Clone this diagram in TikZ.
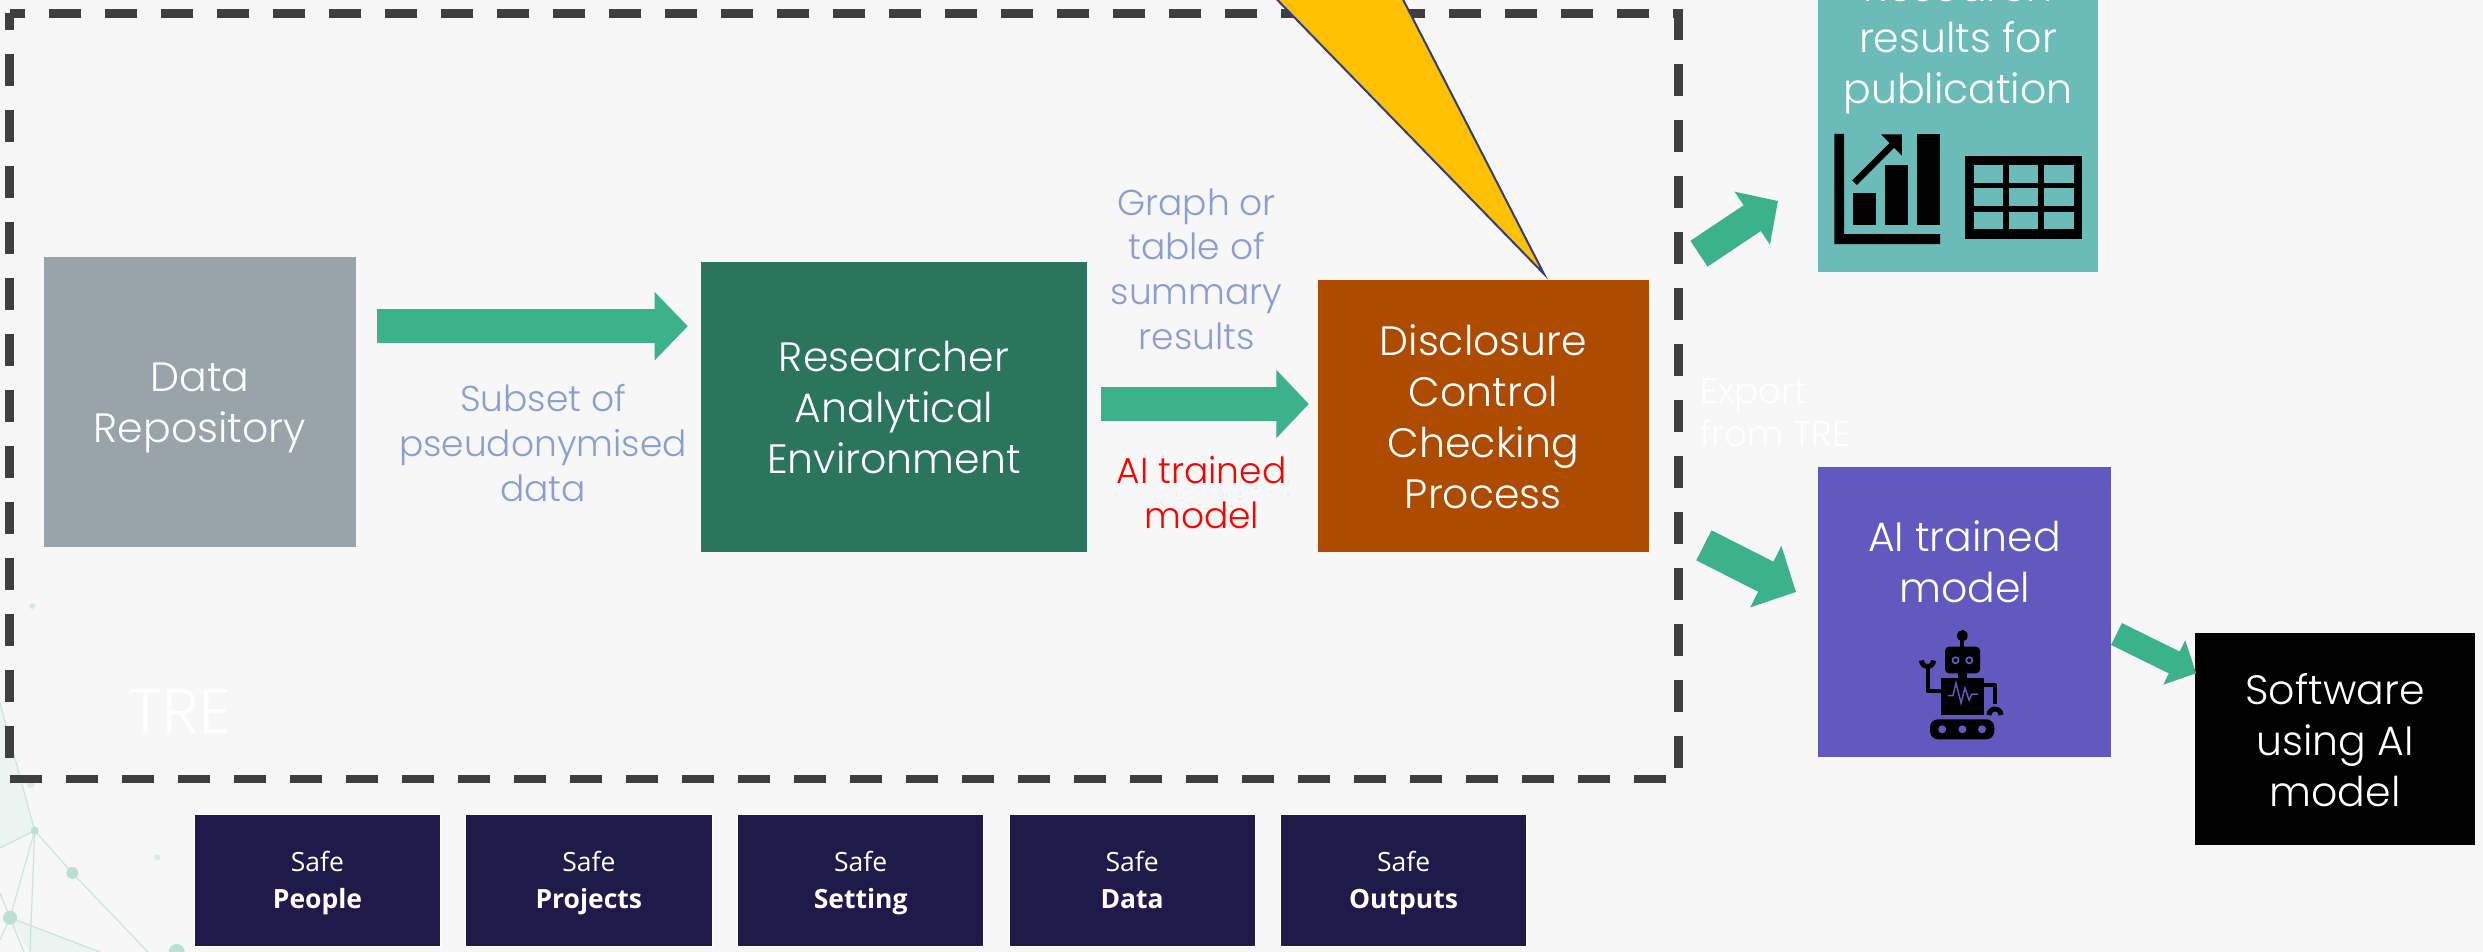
\documentclass[tikz,border=0pt]{standalone}
\usepackage{fontspec}
\usetikzlibrary{arrows.meta}
\setmainfont{Poppins Light}
\newfontfamily\safefont{Open Sans}
\definecolor{bgc}{HTML}{F7F7F7}
\definecolor{dashc}{HTML}{3F3F3D}
\definecolor{greenc}{HTML}{3CB28A}
\definecolor{labelc}{HTML}{8C9DD3}
\definecolor{safec}{HTML}{1F1A4A}
\definecolor{tealc}{HTML}{6BBBB9}
\definecolor{purplec}{HTML}{6159BE}
\definecolor{greyc}{HTML}{98A4A9}
\definecolor{darkgreen}{HTML}{2A755B}
\definecolor{rustc}{HTML}{AD4B00}
\definecolor{netline}{HTML}{C8E6DD}
\definecolor{netdot}{HTML}{B9E0D5}
\definecolor{netfaint}{HTML}{D6EBE5}
\definecolor{netpale}{HTML}{EBF4F1}
\definecolor{calloutc}{HTML}{FFC000}
\definecolor{calloutl}{HTML}{2F3F7F}
\newcommand\blk[2]{\smash{\raisebox{#1pt}{\begin{tabular}[t]{@{}c@{}}#2\end{tabular}}}}
\newcommand\blkl[1]{\smash{\begin{tabular}[t]{@{}l@{}}#1\end{tabular}}}
\tikzset{
  x=1pt,y=-1pt,
  box/.style n args={3}{rectangle,minimum width=#1pt,minimum height=#2pt,fill=#3,inner sep=0pt,outer sep=0pt,text=white},
  bigtxt/.style={font=\fontsize{41}{51}\selectfont},
  lbltxt/.style={font=\fontsize{36}{44.7}\selectfont,inner sep=0pt,text=labelc},
  safetxt/.style={font=\safefont\fontsize{26.5}{36.6}\selectfont},
  safebox/.style={box={246.3}{132.4}{safec},draw=white,line width=1pt},
  tre/.style={dash pattern=on 32.3pt off 23.7pt,line width=8.3pt,draw=dashc},
  conn/.style n args={3}{draw=greenc,line width=#1pt,-{Triangle[length=#2pt,width=#3pt,fill=greenc]}},
  netl/.style={draw=netline,line width=1.2pt},
}
\begin{document}
\begin{tikzpicture}
\useasboundingbox (0,0) rectangle (2483,952);
\clip (0,0) rectangle (2483,952);
\fill[bgc] (0,0) rectangle (2483,952);

% background network
\fill[netpale] (0,703) -- (34.7,830.7) -- (0,848) -- cycle;
\fill[netpale] (10,917.7) -- (100,952) -- (30,952) -- cycle;
\draw[netl] (0,703) -- (34.7,830.7) -- (0,848);
\draw[netl] (34.7,830.7) -- (72.3,873) -- (148,952);
\draw[netl] (34.7,830.7) -- (10,917.7) -- (0,940);
\draw[netl] (34.7,830.7) -- (30,952);
\draw[netl] (0,893) -- (10,917.7) -- (24,952);
\draw[netl] (10,917.7) -- (100,952);
\fill[netdot] (34.7,830.7) circle (4);
\fill[netdot] (72.3,873) circle (6);
\fill[netdot] (10,917.7) circle (7);
\fill[netfaint] (157.3,857.3) circle (3);
\fill[netdot] (176.7,952) circle (8);
\fill[netfaint] (30.7,784) circle (4);
\fill[netfaint] (32.3,606) circle (3);

% TRE dashed boundary
\draw[tre,dash phase=16.5pt] (9.5,13.5) -- (1678.6,13.5);
\draw[tre,dash phase=15.5pt] (9.5,13.5) -- (9.5,779);
\draw[tre] (9.5,779) -- (1678.6,779);
\draw[tre,dash phase=1.5pt] (1678.6,9.5) -- (1678.6,779);
\node[font=\fontsize{63}{70}\selectfont,text=white,inner sep=0pt] (trelabel) at (180,733.3) {\blk{0}{TRE}};
\node[font=\fontsize{35.5}{43.7}\selectfont,text=white,inner sep=0pt,anchor=west] (exportlabel) at (1700,403) {\blkl{Export\\from TRE}};

% callout
\draw[fill=calloutc,draw=calloutl,line width=2pt,miter limit=20] (1228.8,-50) -- (1544,274) -- (1377.6,-50) -- cycle;

% boxes
\node[box={311.8}{289.7}{greyc},bigtxt] (repo) at (199.9,401.85) {\blk{10.15}{Data\\Repository}};
\node[box={385.9}{289.7}{darkgreen},bigtxt] (rae) at (893.95,406.85) {\blk{35.15}{Researcher\\Analytical\\Environment}};
\node[box={331}{271.7}{rustc},bigtxt] (dccp) at (1483.3,415.85) {\blk{60.85}{Disclosure\\Control\\Checking\\Process}};
\node[box={280}{321.7}{tealc},bigtxt] (research) at (1958,110.85) {\blk{109.65}{Research\\results for\\publication}};
\node[box={293}{289.7}{purplec},bigtxt] (aimodel) at (1964.5,611.85) {\blk{60.85}{AI trained\\model}};
\node[box={280}{211.7}{black},bigtxt] (software) at (2335,738.85) {\blk{34.85}{Software\\using AI\\model}};

% labels
\node[lbltxt] (subset) at (543,411.7) {\blk{0}{Subset of\\pseudonymised\\data}};
\node[lbltxt] (graph) at (1196.6,215) {\blk{0}{Graph or\\table of\\summary\\results}};
\node[lbltxt,text=red] (trained) at (1201.7,483.3) {\blk{0}{AI trained\\model}};

% connectors
\coordinate (c1a) at (376.5,326.2); \coordinate (c1b) at (687.8,326.2);
\coordinate (c2a) at (1101,404);    \coordinate (c2b) at (1308.8,404);
\coordinate (c3a) at (1699,253.7);  \coordinate (c3b) at (1778,201);
\coordinate (c4a) at (1703.9,545.3);\coordinate (c4b) at (1796,592);
\coordinate (c5a) at (2116.5,634);  \coordinate (c5b) at (2196.2,673.3);
\draw[conn={33.7}{33.1}{66.3}] (c1a) -- (c1b);
\draw[conn={33.4}{32.5}{66.6}] (c2a) -- (c2b);
\draw[conn={31}{31}{62}] (c3a) -- (c3b);
\draw[conn={33.7}{33.9}{67}] (c4a) -- (c4b);
\draw[conn={24.4}{24.5}{48}] (c5a) -- (c5b);

% safe boxes
\node[safebox,safetxt] (s1) at (317.5,880.5) {\blk{8.8}{Safe\\\textbf{People}}};
\node[safebox,safetxt] (s2) at (588.85,880.5) {\blk{8.8}{Safe\\\textbf{Projects}}};
\node[safebox,safetxt] (s3) at (860.75,880.5) {\blk{8.8}{Safe\\\textbf{Setting}}};
\node[safebox,safetxt] (s4) at (1132.15,880.5) {\blk{8.8}{Safe\\\textbf{Data}}};
\node[safebox,safetxt] (s5) at (1403.55,880.5) {\blk{8.8}{Safe\\\textbf{Outputs}}};

% chart icon
\fill[black] (1834.4,134) rectangle (1844,244) (1834.4,234) rectangle (1940,244);
\fill[black] (1853,193) rectangle (1875.8,225);
\fill[black] (1884.9,165) rectangle (1908.2,225);
\fill[black] (1917.3,134) rectangle (1940,225);
\draw[black,line width=6.5pt] (1854.5,182.7) -- (1895.5,141.7);
\fill[black] (1881,134.3) -- (1901.9,134.3) -- (1901.9,155.7) -- cycle;
% table icon
\fill[black] (1965,156) rectangle (2082,238.7);
\foreach \xa/\xb in {1974/2002.8,2009.2/2037.9,2044.3/2073.5}
  \foreach \ya/\yb in {165/182.7,188.3/206,212/229.3}
    \fill[tealc] (\xa,\ya) rectangle (\xb,\yb);

% robot icon
\fill[black] (1962.4,635.7) ellipse (5.3 and 5.7);
\fill[black] (1960.4,640) rectangle (1964.4,648);
\fill[black,rounded corners=4pt] (1945,646.7) rectangle (1980,673.3);
\foreach \ex in {1955.5,1969.3}{
  \fill[purplec] (\ex,660.3) circle (4);
  \fill[black] (\ex,660.3) circle (2);
}
\fill[black] (1958,673) rectangle (1967,678);
\fill[black] (1941.2,677.7) rectangle (1984.2,715);
\draw[purplec,line width=1.5pt] (1948,695.5) -- (1953,695.5) -- (1956,683) -- (1961,703) -- (1965,688) -- (1969,700) -- (1972,694) -- (1978,694);
\draw[black,line width=4pt,line join=round] (1941.2,691) -- (1927.5,691) -- (1927.5,666);
\draw[black,line width=5pt] (1921.5,660.5) arc[start angle=180,end angle=0,radius=6];
\draw[black,line width=4pt,line join=round] (1984.2,685) -- (1995,685) -- (1995,704);
\draw[black,line width=5pt] (1989,715) arc[start angle=180,end angle=360,radius=6];
\fill[black,rounded corners=8pt] (1930,719.3) rectangle (1994.3,739.3);
\foreach \wx in {1942.2,1962.4,1982}
  \fill[purplec] (\wx,729.3) circle (4);
\end{tikzpicture}
\end{document}
